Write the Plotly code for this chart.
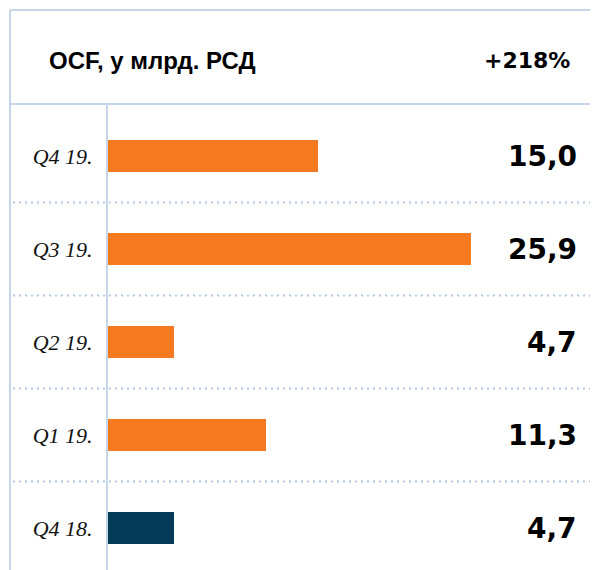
import plotly.graph_objects as go

# data, top to bottom
quarters = ["Q4 19.", "Q3 19.", "Q2 19.", "Q1 19.", "Q4 18."]
ocf = [15.0, 25.9, 4.7, 11.3, 4.7]
value_labels = ["15,0", "25,9", "4,7", "11,3", "4,7"]
bar_colors = ["#f47920", "#f47920", "#f47920", "#f47920", "#063a59"]
title_text = "OCF, у млрд. РСД"
change_text = "+218%"

# page body adds an 8px margin, so the figure is 590x562
OFF = 8
W, H = 590, 562
L, T = 100, 96
PW, PH = W - L, H - T
GRID = "#c6d6e8"


def xp(px):
    # screen x -> paper
    return (px - OFF - L) / PW


def yp(py):
    # screen y -> paper
    return (H - (py - OFF)) / PH


fig = go.Figure(
    go.Bar(
        x=ocf,
        y=quarters,
        orientation="h",
        marker=dict(color=bar_colors, line=dict(width=0)),
        width=0.34,
        hoverinfo="skip",
    )
)

shapes = [
    # frame top, header separator, left edge
    dict(type="line", xref="paper", yref="paper", x0=xp(10), x1=xp(600),
         y0=yp(10), y1=yp(10), line=dict(color=GRID, width=2)),
    dict(type="line", xref="paper", yref="paper", x0=xp(10), x1=xp(600),
         y0=yp(104), y1=yp(104), line=dict(color=GRID, width=2)),
    dict(type="line", xref="paper", yref="paper", x0=xp(10), x1=xp(10),
         y0=yp(10), y1=yp(575), line=dict(color=GRID, width=2)),
]
for i in range(len(quarters) - 1):
    shapes.append(dict(type="line", xref="paper", yref="y",
                       x0=xp(13), x1=xp(595), y0=i + 0.5, y1=i + 0.5,
                       line=dict(color="#b3c9e2", width=2, dash="2px,4px"),
                       layer="below"))

annotations = [
    dict(text=title_text, xref="paper", yref="paper", x=xp(47), y=yp(60),
         xanchor="left", yanchor="middle", showarrow=False,
         font=dict(family="Liberation Sans", size=24, color="#000000",
                   weight="bold")),
    dict(text=change_text, xref="paper", yref="paper", x=xp(572), y=yp(60),
         xanchor="right", yanchor="middle", showarrow=False,
         font=dict(family="DejaVu Sans", size=22, color="#000000",
                   weight="bold")),
]
for q, lab in zip(quarters, value_labels):
    annotations.append(dict(text=lab, xref="paper", yref="y", x=xp(579), y=q,
                            xanchor="right", yanchor="middle", showarrow=False,
                            font=dict(family="DejaVu Sans", size=28,
                                      color="#000000", weight="bold")))

fig.update_layout(
    width=W,
    height=H,
    margin=dict(l=L, r=0, t=T, b=0, pad=0),
    paper_bgcolor="white",
    plot_bgcolor="white",
    showlegend=False,
    shapes=shapes,
    annotations=annotations,
    bargap=0,
)
fig.update_xaxes(range=[0, 35], visible=False, fixedrange=True)
fig.update_yaxes(
    type="category",
    categoryorder="array",
    categoryarray=quarters,
    range=[len(quarters) - 1 + 42 / 93, -52 / 93],
    showgrid=False,
    zeroline=False,
    showline=True,
    linecolor=GRID,
    linewidth=2,
    ticks="",
    ticklabelstandoff=9,
    tickfont=dict(family="Liberation Serif", size=22, color="#111111",
                  style="italic"),
    fixedrange=True,
)

fig.write_html("out.html", config={"displayModeBar": False})
